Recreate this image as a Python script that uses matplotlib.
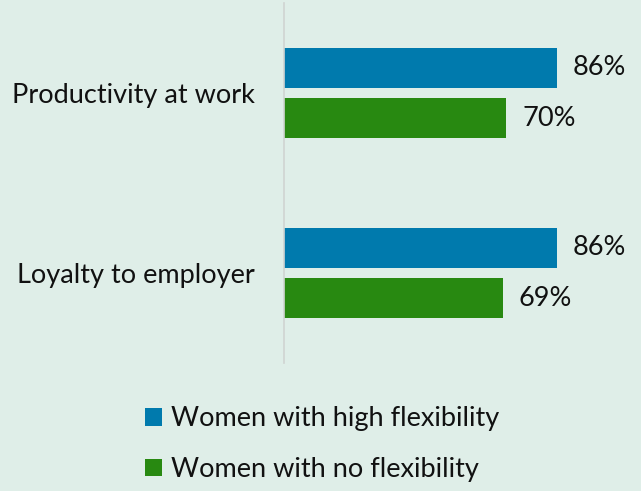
import numpy as np
import matplotlib.pyplot as plt

categories = ['Productivity at work', 'Loyalty to employer']
high_flex = [86, 86]
no_flex = [70, 69]
series_names = ['Women with high flexibility', 'Women with no flexibility']

bg = '#dfeee8'
blue = '#007aad'
green = '#288911'

plt.rcParams['font.family'] = ['Lato', 'DejaVu Sans']
fs = 19.5

fig = plt.figure(figsize=(6.41, 4.91), dpi=100, facecolor=bg)
ax = fig.add_axes([284 / 641, 1 - 363 / 491, 317.5 / 641, 360 / 491])
ax.set_facecolor(bg)

y = np.arange(len(categories))
h = 0.225
off = 0.139
b1 = ax.barh(y - off, high_flex, height=h, color=blue, label=series_names[0])
b2 = ax.barh(y + off, no_flex, height=h, color=green, label=series_names[1])

for bars, vals in ((b1, high_flex), (b2, no_flex)):
    for rect, v in zip(bars, vals):
        ax.text(v + 5, rect.get_y() + rect.get_height() / 2, f'{v}%',
                va='center', ha='left', fontsize=fs, color='#111111')

ax.set_xlim(0, 100)
ax.set_ylim(1.5, -0.5)
ax.set_yticks(y)
ax.set_yticklabels(categories, fontsize=fs, color='#111111')
ax.tick_params(axis='y', length=0, pad=21)
ax.set_xticks([])
for s in ['top', 'right', 'bottom']:
    ax.spines[s].set_visible(False)
ax.spines['left'].set_color('#d0d4d2')
ax.spines['left'].set_linewidth(1.2)

fig.legend(handles=[b1, b2], loc='upper left', bbox_to_anchor=(121 / 641, 1 - 382 / 491),
           frameon=False, fontsize=fs, handlelength=0.63, handleheight=0.63,
           handletextpad=0.3, labelspacing=0.95, labelcolor='#111111')

fig.savefig('out.png', dpi=100, facecolor=bg)
